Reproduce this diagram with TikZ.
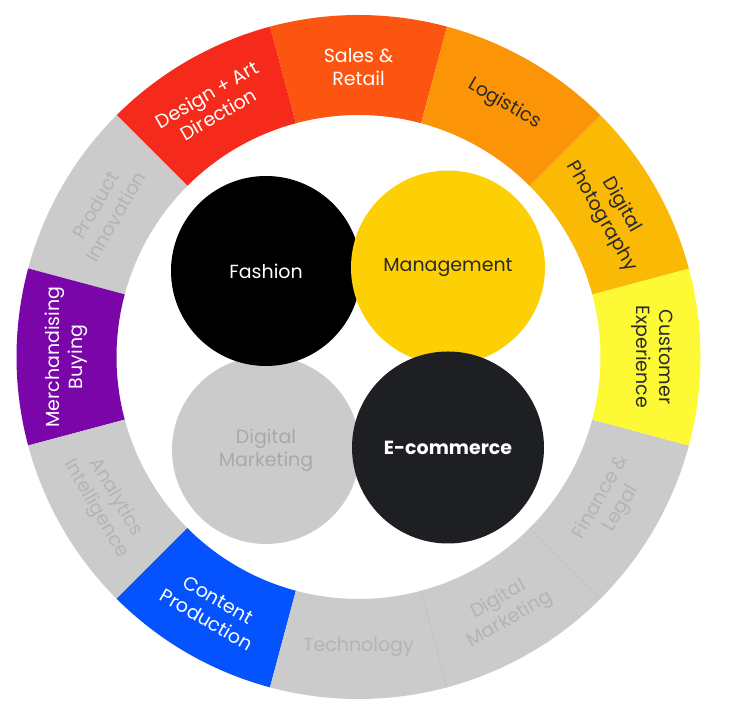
\documentclass[tikz,border=0pt]{standalone}
\usepackage{fontspec}
\setmainfont{Poppins}
\definecolor{cDesign}{HTML}{F52A1A}
\definecolor{cSales}{HTML}{FC5511}
\definecolor{cLog}{HTML}{FC9407}
\definecolor{cPhoto}{HTML}{F9B904}
\definecolor{cCust}{HTML}{FEF935}
\definecolor{cMerch}{HTML}{7A05A8}
\definecolor{cContent}{HTML}{0552FF}
\definecolor{cGray}{HTML}{CBCBCB}
\definecolor{cGrayTxt}{HTML}{B4B4B4}
\definecolor{cSep}{HTML}{BDBDBD}
\definecolor{cMgmt}{HTML}{FDD005}
\definecolor{cEcom}{HTML}{1E1F23}
\definecolor{cDark}{HTML}{2A2A2A}
\definecolor{cDMtxt}{HTML}{A9A9A9}
\newcommand\ringseg[2]{\fill[#2] (#1:342pt) arc[start angle=#1, delta angle=30, radius=342pt] -- ({#1+30}:242pt) arc[start angle={#1+30}, delta angle=-30, radius=242pt] -- cycle;}
\tikzset{
  lbl/.style={align=center, font=\fontsize{19}{23}\selectfont, inner sep=0pt},
  bubble/.style={circle, inner sep=0pt, align=center, font=\fontsize{19}{23}\selectfont}
}
\begin{document}
\begin{tikzpicture}[x=1pt,y=1pt]
\useasboundingbox (0,0) rectangle (731,717);
\fill[white] (0,0) rectangle (731,717);
\begin{scope}[shift={(358.5,360)}]
  \ringseg{75}{cSales}
  \ringseg{105}{cDesign}
  \ringseg{135}{cGray}
  \ringseg{165}{cMerch}
  \ringseg{195}{cGray}
  \ringseg{225}{cContent}
  \ringseg{255}{cGray}
  \ringseg{285}{cGray}
  \ringseg{315}{cGray}
  \ringseg{345}{cCust}
  \ringseg{15}{cPhoto}
  \ringseg{45}{cLog}
  \draw[cSep, line width=0.5pt] (285:242pt) -- (285:342pt);
  \draw[cSep, line width=0.5pt] (315:242pt) -- (315:342pt);
  \node[lbl, text=white, rotate=0] (sales) at (90:290pt) {Sales \&\\Retail};
  \node[lbl, text=white, rotate=30] (design) at (120:292pt) {Design + Art\\Direction};
  \node[lbl, text=cGrayTxt, rotate=60] (product) at (150:292pt) {Product\\Innovation};
  \node[lbl, text=white, rotate=90] (merch) at (180:292pt) {Merchandising\\Buying};
  \node[lbl, text=cGrayTxt, rotate=-60] (analytics) at (210:292pt) {Analytics\\Intelligence};
  \node[lbl, text=white, rotate=-30] (content) at (240:292pt) {Content\\Production};
  \node[lbl, text=cGrayTxt, rotate=0] (tech) at (270:290pt) {Technology};
  \node[lbl, text=cGrayTxt, rotate=30] (digmark) at (300:292pt) {Digital\\Marketing};
  \node[lbl, text=cGrayTxt, rotate=60] (finance) at (330:292pt) {Finance \&\\Legal};
  \node[lbl, text=cDark, rotate=-90] (cust) at (0:294pt) {Customer\\Experience};
  \node[lbl, text=cDark, rotate=-60] (photo) at (30:292pt) {Digital\\Photography};
  \node[lbl, text=cDark, rotate=-30] (logistics) at (60:292pt) {Logistics};
\end{scope}
\node[bubble, fill=cGray, text=cDMtxt, minimum size=188pt] (dm) at (266,267) {Digital\\Marketing};
\node[bubble, fill=black, text=white, minimum size=190pt] (fashion) at (266,446) {Fashion};
\node[bubble, fill=cMgmt, text=cDark, minimum size=194pt] (mgmt) at (448,449.5) {Management};
\node[bubble, fill=cEcom, text=white, minimum size=192pt, font=\fontsize{19}{23}\selectfont\bfseries] (ecom) at (448,269.5) {E-commerce};
\end{tikzpicture}
\end{document}
